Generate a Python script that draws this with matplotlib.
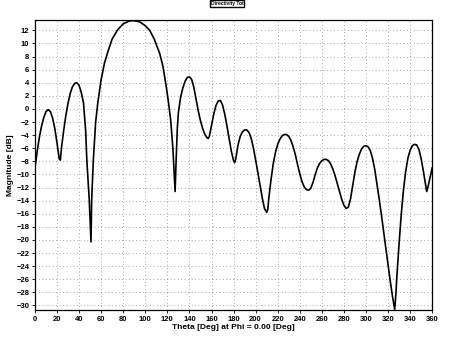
import matplotlib
matplotlib.use('Agg')
import matplotlib.pyplot as plt
import numpy as np

# theta (deg) and magnitude (dB)
theta = [0, 2, 4, 6, 8, 10, 12, 14, 16, 18, 20, 22, 23,
         24, 26, 28, 30, 32, 34, 36, 38, 40, 42, 44, 46, 47, 49.2, 50.8,
         51.4, 52.9, 55, 57, 60, 63, 66, 70, 75, 80, 85, 89, 95, 100, 104,
         108, 113, 116, 119, 121, 123, 125, 126, 127,
         128, 129, 130, 132, 134, 136, 138, 140, 142, 144, 146, 148, 150,
         152, 154, 156, 157, 158, 160, 162, 164, 166, 168, 170, 172, 174,
         176, 178, 180, 181, 182, 184, 186, 188, 190, 192, 194, 196, 198,
         200, 202, 204, 206, 208, 210, 211, 212, 214, 216, 218, 220, 222,
         224, 226, 228, 230, 232, 234, 236, 238, 240, 242, 244, 246, 248,
         250, 252, 254, 256, 258, 260, 262, 264, 266, 268, 270, 272, 274,
         276, 278, 280, 282, 284, 286, 288, 290, 292, 294, 296, 298, 300,
         302, 304, 306, 308, 310, 312, 314, 316, 318, 320, 322, 324, 326,
         327, 328, 330, 332, 334, 336, 338, 340, 342, 344, 346, 348, 350,
         352, 354, 355, 356, 358, 360]
mag = [-9.0, -6.5, -4.3, -2.6, -1.3, -0.4, -0.1, -0.4, -1.4, -3.0, -5.2, -7.6, -7.8,
       -6.0, -3.3, -1.0, 0.9, 2.4, 3.4, 3.9, 4.0, 3.6, 2.5, 0.9, -3.5, -7.8, -13.9, -20.3,
       -13.9, -7.8, -2.0, 1.0, 4.5, 7.0, 8.7, 10.7, 12.1, 13.0, 13.4, 13.5, 13.3, 12.7, 12.0,
       10.7, 8.5, 6.5, 3.4, 1.0, -1.7, -6.0, -9.3, -12.6,
       -7.5, -3.0, -0.5, 1.8, 3.2, 4.2, 4.8, 4.9, 4.5, 3.3, 1.5, -0.3, -1.8,
       -3.0, -3.9, -4.4, -4.5, -4.2, -2.5, -0.8, 0.5, 1.2, 1.3, 0.6, -0.8, -2.6,
       -4.6, -6.5, -7.9, -8.2, -7.6, -5.5, -4.2, -3.5, -3.2, -3.2, -3.6, -4.5, -6.0,
       -7.8, -9.7, -11.7, -13.6, -15.2, -15.8, -15.3, -13.5, -10.7, -8.3, -6.6, -5.4, -4.6,
       -4.1, -3.9, -3.9, -4.2, -4.8, -5.8, -7.0, -8.5, -9.9, -11.1, -11.9, -12.3, -12.4,
       -12.1, -11.2, -10.0, -9.0, -8.3, -7.9, -7.7, -7.7, -7.9, -8.4, -9.2, -10.2, -11.4,
       -12.6, -13.8, -14.7, -15.2, -15.0, -13.7, -11.6, -9.6, -8.0, -6.9, -6.1, -5.7, -5.6,
       -5.8, -6.4, -7.6, -9.3, -11.5, -13.8, -16.2, -18.8, -21.3, -23.8, -26.3, -28.6, -30.6,
       -28.5, -25.5, -20.5, -16.0, -12.3, -9.5, -7.5, -6.3, -5.6, -5.4, -5.5, -6.2, -7.6,
       -9.5, -11.5, -12.6, -12.0, -10.5, -9.0]

xticks = list(range(0, 361, 20))
yticks = list(range(-30, 13, 2))

plt.rcParams['font.family'] = ['Liberation Sans', 'DejaVu Sans']

fig = plt.figure(figsize=(4.54, 3.37), dpi=100)
ax = fig.add_axes([0.077, 0.080, 0.875, 0.861])

ax.plot(theta, mag, color='black', linewidth=1.2)

ax.set_xlim(0, 360)
ax.set_ylim(-30.7, 13.6)
ax.set_xticks(xticks)
ax.set_yticks(yticks)
ax.tick_params(labelsize=5.5, length=2, width=0.6, pad=2)
for lab in ax.get_xticklabels() + ax.get_yticklabels():
    lab.set_fontweight('bold')
ax.grid(True, color='0.35', linestyle=(0, (1, 4)), linewidth=0.5)

ax.set_xlabel('Theta [Deg] at Phi = 0.00 [Deg]', fontsize=6, fontweight='bold', labelpad=1)
ax.set_ylabel('Magnitude [dB]', fontsize=6, fontweight='bold', labelpad=2)
for s in ax.spines.values():
    s.set_linewidth(0.9)

fig.text(0.5, 0.996, 'Directivity Tot', ha='center', va='top', fontsize=3.5,
         fontweight='bold',
         bbox=dict(boxstyle='square,pad=0.2', fc='white', ec='black', lw=1.0))

fig.savefig('out.png', dpi=100)
plt.close(fig)
